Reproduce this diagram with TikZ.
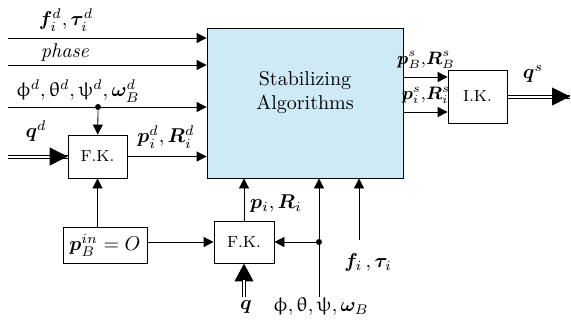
\documentclass[tikz,border=0pt]{standalone}
\usepackage{amsmath,bm}
\usepackage{upgreek}
\usetikzlibrary{arrows.meta}
\definecolor{algblue}{RGB}{205,234,245}
\begin{document}
\begin{tikzpicture}[x=0.5pt, y=-0.5pt,
  blk/.style={draw, inner sep=0pt, font=\footnotesize},
  sig/.style={-{Triangle[length=5pt,width=5pt]}},
  bigtip/.style={-{Triangle[length=9pt,width=9pt]}},
  dbl/.style={line width=1.9pt, bigtip,
    postaction={draw, white, line width=1.1pt, -, shorten >=8.5pt}},
  junc/.style={circle, fill, inner sep=0pt, minimum size=3pt}]
\useasboundingbox (0,0) rectangle (571,328);
\node[draw, fill=algblue, minimum width=98pt, minimum height=75pt] at (305,103) (algo) {};
\node[align=center] at ([yshift=5pt]algo.center) (algotext) {Stabilizing\\Algorithms};
\node[blk, minimum width=29.5pt, minimum height=21.5pt] at (97.5,156.5) (fkd) {F.K.};
\node[draw, inner sep=0pt, minimum width=42pt, minimum height=18pt] at (105,245) (pbin) {$\bm{p}_B^{in}=O$};
\node[blk, minimum width=30pt, minimum height=21pt] at (244,242) (fk) {F.K.};
\node[blk, minimum width=29.5pt, minimum height=26.5pt] at (477.5,96.5) (ik) {I.K.};
\coordinate (ftin) at (8,38);
\coordinate (phin) at (8,65);
\coordinate (angin) at (8,107);
\coordinate (qdin) at (8,156.5);
\coordinate (qin) at (244,297);
\coordinate (angb) at (319,297);
\coordinate (ftb) at (359,240);
\coordinate (qsout) at (570,96.5);
\node[junc] at (98,107) (jd) {};
\node[junc] at (319,242) (jb) {};
\draw[sig] (ftin) -- (ftin -| algo.west);
\draw[sig] (phin) -- (phin -| algo.west);
\draw[sig] (angin) -- (angin -| algo.west);
\draw[sig] (jd) -- (fkd);
% double line into the first F.K.
\draw ([yshift=0.8pt]qdin) -- ([yshift=0.8pt]qdin -| fkd.west);
\draw ([yshift=-0.8pt]qdin) -- ([yshift=-0.8pt]qdin -| fkd.west);
\draw[bigtip] ([xshift=-9pt]fkd.west) -- (fkd.west);
\draw[sig] (fkd) -- (fkd -| algo.west);
\draw[sig] (pbin.north -| fkd) -- (fkd);
\draw[sig] (pbin.east |- fk) -- (fk);
\draw[sig] (fk) -- (fk |- algo.south);
\draw[dbl] (qin) -- (fk);
\draw[sig] (angb) -- (angb |- algo.south);
\draw[sig] (jb) -- (fk);
\draw[sig] (ftb) -- (ftb |- algo.south);
\draw[sig] (algo.east |- 0,77) -- (ik.west |- 0,77);
\draw[sig] (algo.east |- 0,112) -- (ik.west |- 0,112);
% double line out of I.K.
\draw ([yshift=0.8pt]ik.east) -- ([yshift=0.8pt]qsout);
\draw ([yshift=-0.8pt]ik.east) -- ([yshift=-0.8pt]qsout);
\draw[bigtip] ([xshift=-9pt]qsout) -- (qsout);
\node at (66,20) (ftdlab) {$\bm{f}_i^d,\bm{\tau}_i^d$};
\node at (65,52) (phlab) {\textit{phase}};
\node at (78,91) (angdlab) {$\upphi^d,\uptheta^d,\uppsi^d,\bm{\omega}_B^d$};
\node at (36,131) (qdlab) {$\bm{q}^d$};
\node at (166,137) (pdlab) {$\bm{p}_i^d,\bm{R}_i^d$};
\node at (276,204) (plab) {$\bm{p}_i,\bm{R}_i$};
\node at (368,262) (ftlab) {$\bm{f}_i\,,\bm{\tau}_i$};
\node at (246,307) (qlab) {$\bm{q}$};
\node at (321,307) (anglab) {$\upphi,\uptheta,\uppsi,\bm{\omega}_B$};
\node[font=\small, inner sep=1pt] at (426,60) (pbslab) {$\bm{p}_B^s{,}\bm{R}_B^s$};
\node[font=\small, inner sep=1pt] at (426,95) (pislab) {$\bm{p}_i^s{,}\bm{R}_i^s$};
\node at (533,74) (qslab) {$\bm{q}^s$};
\end{tikzpicture}
\end{document}
